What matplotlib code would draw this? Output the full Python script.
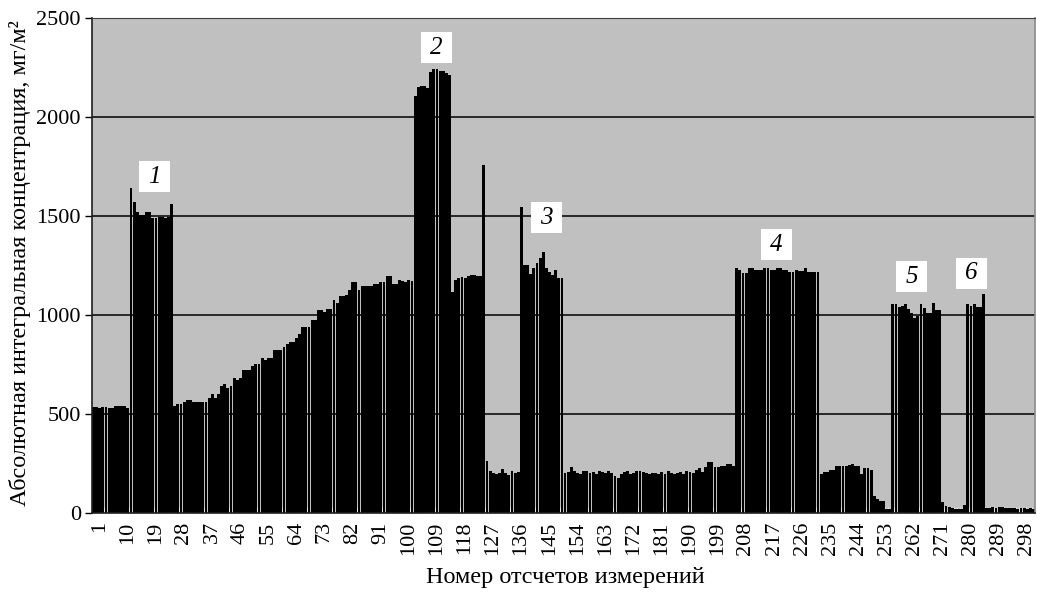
import numpy as np
import matplotlib
matplotlib.use("Agg")
import matplotlib.pyplot as plt
from matplotlib.patches import Rectangle
from matplotlib.transforms import ScaledTranslation

plt.rcParams["font.family"] = ["Liberation Serif", "DejaVu Serif"]

# Absolute integral concentration per measurement count (mg/m^2)
background_start = [537, 537, 530, 537, 537, 529, 529, 540, 540, 540, 540, 529]
zone_1 = [1641, 1572, 1522, 1505, 1505, 1522, 1522, 1491, 1491, 1495, 1495,
          1491, 1495, 1559]
ramp = [542, 549, 549, 559, 572, 572, 559, 559, 559, 559, 559, 579, 599, 579,
        599, 643, 650, 633, 640, 680, 670, 680, 721, 721, 721, 741, 751, 751,
        781, 771, 781, 781, 822, 822, 822, 838, 852, 865, 865, 882, 902, 939,
        939, 939, 973, 973, 1024, 1024, 1017, 1030, 1030, 1074, 1061, 1094,
        1094, 1100, 1125, 1165, 1165, 1125, 1145, 1145, 1145, 1145, 1158, 1158,
        1165, 1165, 1195, 1195, 1158, 1158, 1175, 1170, 1165, 1175, 1170]
zone_2 = [2106, 2150, 2156, 2156, 2145, 2229, 2242, 2242, 2232, 2232, 2222, 2212]
plateau = [1115, 1175, 1185, 1190, 1185, 1195, 1200, 1200, 1195, 1195]
spike = [1760]
low_a = [265, 210, 200, 195, 200, 220, 200, 190, 210, 200, 205]
zone_3 = [1544, 1252, 1252, 1207, 1236, 1264, 1290, 1317, 1236, 1216, 1202,
          1227, 1185, 1185]
low_b = [200, 205, 230, 210, 200, 195, 210, 210, 200, 205, 195, 210, 205, 200,
         210, 200, 185, 175, 195, 205, 210, 195, 200, 210, 210, 205, 200, 195,
         200, 200, 195, 205, 195, 210, 200, 195, 200, 205, 195, 210, 205, 200,
         215, 225, 205, 231, 256, 256, 231, 234, 237, 237, 247, 247, 237]
zone_4 = [1235, 1225, 1214, 1214, 1236, 1236, 1227, 1227, 1227, 1236, 1236,
          1227, 1227, 1236, 1236, 1225, 1225, 1215, 1215, 1227, 1220, 1220,
          1236, 1219, 1219, 1215, 1215]
low_c = [199, 205, 205, 217, 217, 236, 236, 236, 236, 240, 247, 236, 236, 197,
         229, 229, 215, 86, 69, 61, 61, 20, 18]
zone_5 = [1056, 1056, 1039, 1045, 1056, 1029, 1012, 985, 995, 1056, 1034, 1012,
          1012, 1062, 1024, 1025]
low_d = [57, 35, 28, 25, 20, 20, 22, 38]
zone_6 = [1056, 1045, 1056, 1042, 1042, 1106]
tail = [25, 25, 28, 25, 30, 28, 25, 25, 27, 25, 22, 25, 25, 22, 25, 22]

values = (background_start + zone_1 + ramp + zone_2 + plateau + spike + low_a
          + zone_3 + low_b + zone_4 + low_c + zone_5 + low_d + zone_6 + tail)
n = len(values)
positions = np.arange(1, n + 1)

tick_labels = list(range(1, n + 1, 9))
y_ticks = [0, 500, 1000, 1500, 2000, 2500]

zone_names = ["1", "2", "3", "4", "5", "6"]
zone_centers = [(20.5, 1699), (110.8, 2351), (146.1, 1490),
                (219.7, 1356), (263.0, 1194), (282.2, 1210)]

W, H = 1037, 592
fig = plt.figure(figsize=(W / 100, H / 100), dpi=100)
ax = fig.add_axes([92 / W, 1 - 513 / H, (1035 - 92) / W, (513 - 18) / H])
ax.set_facecolor("#c0c0c0")

for yv in y_ticks[1:-1]:
    ax.axhline(yv, color="black", linewidth=1.1, zorder=0.5)

ax.bar(positions, values, width=0.92, color="black", linewidth=0, zorder=2)

ax.set_xlim(0.5, n + 0.5)
ax.set_ylim(0, 2500)

ax.set_yticks(y_ticks)
ax.set_yticklabels([str(v) for v in y_ticks])
ax.tick_params(axis="y", direction="out", length=5, width=1, labelsize=16,
               pad=3, colors="black")

ax.set_xticks(tick_labels)
ax.set_xticklabels([str(v) for v in tick_labels], rotation=90)
ax.tick_params(axis="x", which="major", length=0, labelsize=16, pad=6)
ax.set_xticks(np.arange(0.5, n + 1, 1.0), minor=True)
ax.tick_params(axis="x", which="minor", direction="in", length=4, width=0.9,
               color="#e4e4e4")
shift = ScaledTranslation(0.06, 0, fig.dpi_scale_trans)
for lbl in ax.get_xticklabels():
    lbl.set_transform(lbl.get_transform() + shift)

for side in ("left", "bottom"):
    ax.spines[side].set_color("#202020")
    ax.spines[side].set_linewidth(1.2)
ax.spines["top"].set_color("#404040")
ax.spines["top"].set_linewidth(0.8)
ax.spines["right"].set_color("#8a8a8a")
ax.spines["right"].set_linewidth(1.2)
for s in ax.spines.values():
    s.set_zorder(4)

# white boxed zone numbers
box_w = 31 / 3.122
box_h = 31 / 0.198
for name, (cx, cy) in zip(zone_names, zone_centers):
    ax.add_patch(Rectangle((cx - box_w / 2, cy - box_h / 2), box_w, box_h,
                           facecolor="white", edgecolor="none", zorder=5))
    ax.text(cx, cy, name, ha="center", va="center", fontsize=18,
            fontstyle="italic", zorder=6)

fig.text(20 / W, 1 - 263 / H,
         "Абсолютная интегральная концентрация, мг/м²",
         rotation=90, ha="center", va="center", fontsize=17.5)
fig.text(565 / W, 1 - 578 / H, "Номер отсчетов измерений",
         ha="center", va="center", fontsize=17.5)

fig.savefig("out.png", dpi=100)
